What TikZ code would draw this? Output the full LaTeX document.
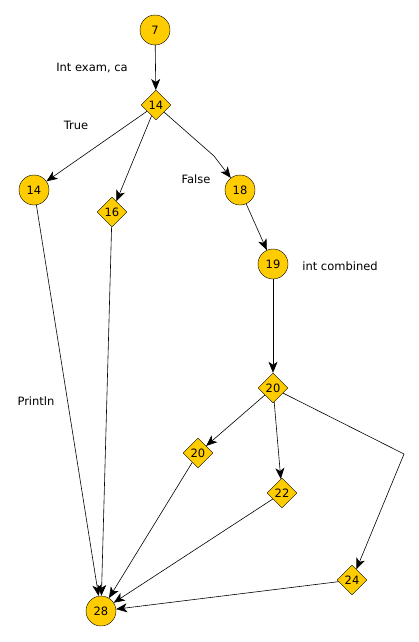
\documentclass[tikz,border=0pt]{standalone}
\usepackage{fontspec}
\setmainfont{DejaVu Sans}
\usetikzlibrary{shapes.geometric, arrows.meta}
\definecolor{gold}{RGB}{255,204,0}
\tikzstyle{circ} = [circle, draw, fill=gold, minimum size=30pt, inner sep=0pt]
\tikzstyle{cond} = [diamond, draw, fill=gold, minimum size=30pt, inner sep=0pt]
\tikzstyle{arrow} = [semithick,-{Stealth[length=11pt,width=9pt,inset=3pt]}]
\tikzstyle{line} = [semithick]

\begin{document}
\begin{tikzpicture}[x=1pt, y=-1pt, font=\fontsize{11.5}{14}\selectfont]
	\useasboundingbox (0,0) rectangle (419,642);
	% nodes
	\node[circ] (n7) at (155,30) {7};
	\node[cond] (d14) at (156,105) {14};
	\node[circ] (n14) at (34,190) {14};
	\node[cond] (d16) at (112,212) {16};
	\node[circ] (n18) at (240,190) {18};
	\node[circ] (n19) at (273,264) {19};
	\node[cond] (d20) at (273,388) {20};
	\node[cond] (d20b) at (198,453) {20};
	\node[cond] (d22) at (282,493) {22};
	\node[cond] (d24) at (352,580) {24};
	\node[circ] (n28) at (101,611) {28};
	\coordinate (b1) at (214,156);
	\coordinate (b2) at (404,454);
	% labels
	\node (lexam) at (92,68) {Int exam, ca};
	\node (ltrue) at (76,125) {True};
	\node (lfalse) at (196,179) {False};
	\node (lcomb) at (340,266) {int combined};
	\node (lprint) at (36,401) {Println};
	% edges
	\draw[arrow] (n7) -- (d14);
	\draw[arrow] (d14) -- (n14);
	\draw[arrow] (d14) -- (d16);
	\draw[line] (d14) -- (b1);
	\draw[arrow] (b1) -- (n18);
	\draw[arrow] (n18) -- (n19);
	\draw[arrow] (n19) -- (d20);
	\draw[arrow] (d20) -- (d20b);
	\draw[arrow] (d20) -- (d22);
	\draw[line] (d20) -- (b2);
	\draw[arrow] (b2) -- (d24);
	\draw[arrow] (n14) -- (n28);
	\draw[arrow] (d16) -- (n28);
	\draw[arrow] (d20b) -- (n28);
	\draw[arrow] (d22) -- (n28);
	\draw[arrow] (d24) -- (n28);
\end{tikzpicture}
\end{document}
